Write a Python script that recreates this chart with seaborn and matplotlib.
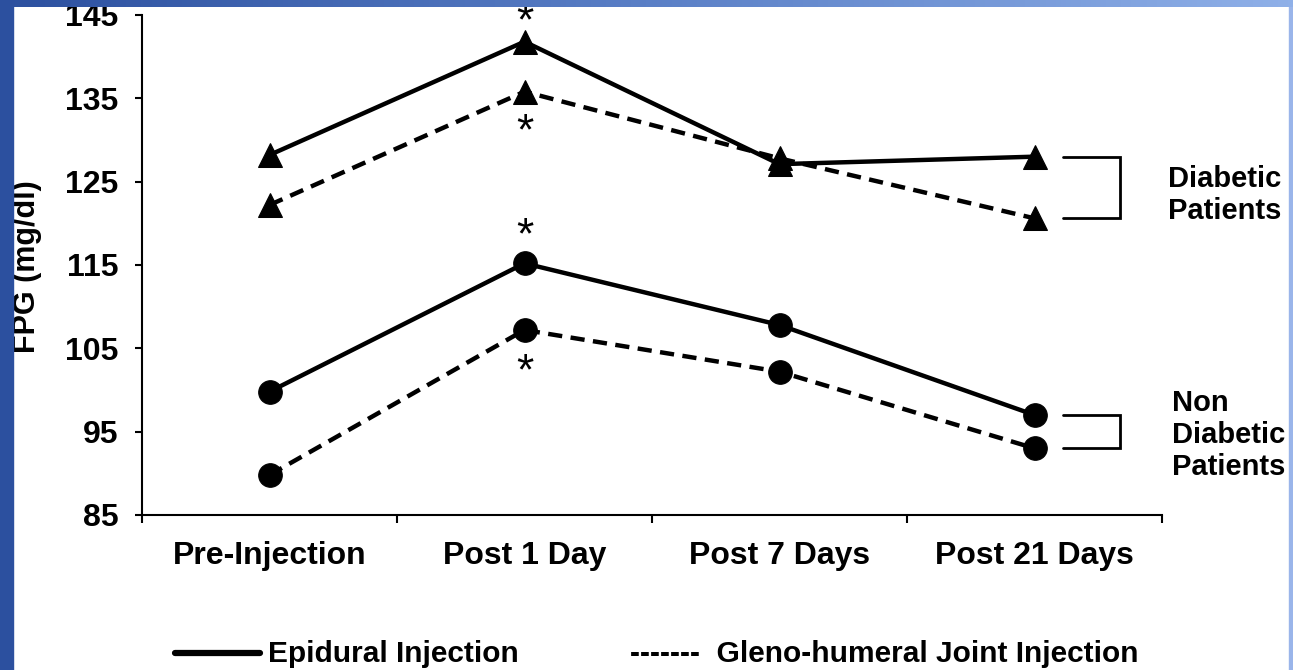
import numpy as np
import pandas as pd
import matplotlib.pyplot as plt
import matplotlib.patches as mpatches
from matplotlib.lines import Line2D
from matplotlib.colors import LinearSegmentedColormap
import seaborn as sns

# data
categories = ['Pre-Injection', 'Post 1 Day', 'Post 7 Days', 'Post 21 Days']
diabetic_epidural = [128.2, 141.8, 127.1, 128.0]
diabetic_gleno = [122.2, 135.8, 127.8, 120.6]
nondiabetic_epidural = [99.8, 115.2, 107.8, 97.0]
nondiabetic_gleno = [89.8, 107.2, 102.2, 93.0]
y_ticks = [85, 95, 105, 115, 125, 135, 145]

# significance stars (category index, value)
stars = [(1, 145.1), (1, 131.9), (1, 119.4), (1, 103.0)]

sns.set_theme(style='ticks')
plt.rcParams['font.family'] = ['Liberation Sans', 'DejaVu Sans']
plt.rcParams['font.weight'] = 'bold'
for key in ['text.color', 'xtick.color', 'ytick.color', 'axes.labelcolor',
            'axes.edgecolor']:
    plt.rcParams[key] = 'black'

pos = np.arange(len(categories))
rows = []
for group, inj, vals in [('Diabetic', 'Epidural', diabetic_epidural),
                         ('Diabetic', 'Gleno', diabetic_gleno),
                         ('Non', 'Epidural', nondiabetic_epidural),
                         ('Non', 'Gleno', nondiabetic_gleno)]:
    for p, v in zip(pos, vals):
        rows.append({'pos': p, 'fpg': v, 'group': group, 'injection': inj})
df = pd.DataFrame(rows)

fig = plt.figure(figsize=(12.93, 6.70), dpi=100)
ax = fig.add_axes([142 / 1293, 1 - 515 / 670, 1020 / 1293, 500 / 670])

for group, mk, ms in [('Diabetic', '^', 17), ('Non', 'o', 17)]:
    sub = df[df['group'] == group]
    sns.lineplot(data=sub, x='pos', y='fpg', style='injection',
                 dashes={'Epidural': '', 'Gleno': (3.2, 1.9)},
                 markers={'Epidural': mk, 'Gleno': mk},
                 color='black', markersize=ms, markeredgecolor='black',
                 linewidth=3.2, sort=False, legend=False, ax=ax)

# stars: center of the glyph at the given value
for x, y in stars:
    ax.annotate('*', (x, y), xytext=(0, -6), textcoords='offset points',
                ha='center', va='center', fontsize=32, fontweight='normal',
                color='black', annotation_clip=False)

ax.set_xlim(-0.5, 3.5)
ax.set_ylim(85, 145)
ax.set_yticks(y_ticks)
ax.set_yticklabels([str(t) for t in y_ticks])
ax.set_xticks(np.arange(len(categories) + 1) - 0.5)
ax.set_xticklabels([])
ax.set_xticks(pos, minor=True)
ax.set_xticklabels(categories, minor=True)
ax.tick_params(axis='x', which='major', length=6, width=1.5, direction='out')
ax.tick_params(axis='x', which='minor', length=0, pad=19, labelsize=23)
ax.tick_params(axis='y', length=5, width=1.5, pad=12, labelsize=23)
for lab in ax.get_xticklabels(minor=True) + ax.get_yticklabels():
    lab.set_fontweight('bold')
sns.despine(ax=ax)
for s in ['left', 'bottom']:
    ax.spines[s].set_linewidth(1.5)
    ax.spines[s].set_color('black')
ax.set_xlabel('')
ax.set_ylabel('')

# brackets linking the Post 21 Days values
for top, bot in [(diabetic_epidural[-1], diabetic_gleno[-1]),
                 (nondiabetic_epidural[-1], nondiabetic_gleno[-1])]:
    ax.plot([3.11, 3.335, 3.335, 3.11], [top, top, bot, bot], color='black',
            lw=2, clip_on=False, solid_joinstyle='miter')

ax.text(3.525, 123.4, 'Diabetic\nPatients',
        ha='left', va='center', fontsize=21, fontweight='bold', linespacing=1.2,
        clip_on=False)
ax.text(3.54, 94.6, 'Non\nDiabetic\nPatients', ha='left', va='center', fontsize=21,
        fontweight='bold', linespacing=1.2, clip_on=False)

fig.text(27 / 1293, 1 - 267 / 670, 'FPG (mg/dl)', rotation=90, ha='center',
         va='center', fontsize=22, fontweight='bold')

# legend at the bottom
fig.add_artist(Line2D([175 / 1293, 260 / 1293], [1 - 653 / 670] * 2, color='black',
                      lw=4.5, transform=fig.transFigure))
fig.text(268 / 1293, 1 - 654 / 670, 'Epidural Injection', ha='left', va='center',
         fontsize=21.5, fontweight='bold')
fig.text(630 / 1293, 1 - 654 / 670, '-------  Gleno-humeral Joint Injection',
         ha='left', va='center', fontsize=21.5, fontweight='bold')

# slide frame
fig.add_artist(mpatches.Rectangle((0, 0), 13 / 1293, 1, transform=fig.transFigure,
                                  color='#2c509f', zorder=10))
grad_ax = fig.add_axes([0, 1 - 7 / 670, 1, 7 / 670], zorder=10)
grad = np.linspace(0, 1, 256).reshape(1, -1)
cmap = LinearSegmentedColormap.from_list('frame', ['#2c509f', '#5a7fc6', '#8fb0e8'])
grad_ax.imshow(grad, aspect='auto', cmap=cmap)
grad_ax.axis('off')
fig.add_artist(mpatches.Rectangle((1289 / 1293, 0), 3 / 1293, 1, transform=fig.transFigure,
                                  color='#9ab5ea', zorder=10))

fig.savefig('out.png', dpi=100)
